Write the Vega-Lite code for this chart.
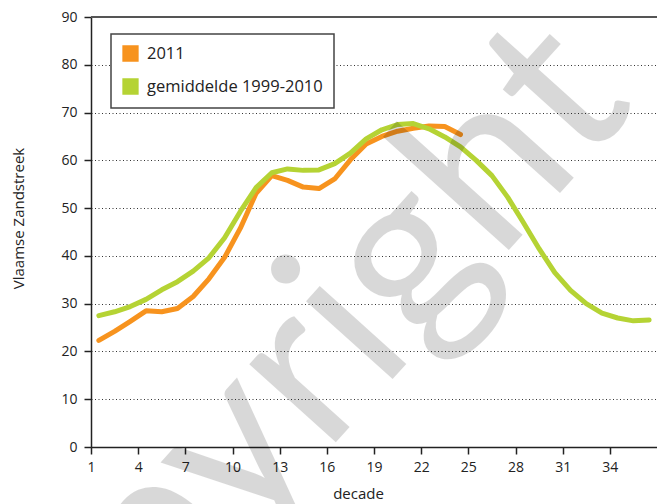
{
  "$schema": "https://vega.github.io/schema/vega-lite/v6.json",
  "width": 566,
  "height": 430,
  "autosize": {"type": "none"},
  "padding": {"left": 91, "top": 17, "right": 0, "bottom": 57},
  "background": "white",
  "config": {
    "view": {"stroke": null},
    "font": "Open Sans",
    "axis": {
      "labelFont": "Open Sans",
      "labelFontSize": 14,
      "labelColor": "#222",
      "titleFont": "Open Sans",
      "titleFontSize": 15,
      "titleFontWeight": "normal",
      "titleColor": "#222",
      "domainColor": "#222",
      "domainWidth": 1.5,
      "tickColor": "#222",
      "tickWidth": 1.5,
      "tickSize": 7
    },
    "legend": {
      "strokeColor": "#444",
      "strokeWidth": 1.5,
      "fillColor": "white",
      "padding": 11
    }
  },
  "datasets": {
    "series": [
      {"decade": 1, "serie": "2011", "value": 22.3},
      {"decade": 2, "serie": "2011", "value": 24.2},
      {"decade": 3, "serie": "2011", "value": 26.3},
      {"decade": 4, "serie": "2011", "value": 28.5},
      {"decade": 5, "serie": "2011", "value": 28.3},
      {"decade": 6, "serie": "2011", "value": 29.0},
      {"decade": 7, "serie": "2011", "value": 31.5},
      {"decade": 8, "serie": "2011", "value": 35.2},
      {"decade": 9, "serie": "2011", "value": 39.7},
      {"decade": 10, "serie": "2011", "value": 45.8},
      {"decade": 11, "serie": "2011", "value": 53.1},
      {"decade": 12, "serie": "2011", "value": 56.8},
      {"decade": 13, "serie": "2011", "value": 55.8},
      {"decade": 14, "serie": "2011", "value": 54.4},
      {"decade": 15, "serie": "2011", "value": 54.1},
      {"decade": 16, "serie": "2011", "value": 56.1},
      {"decade": 17, "serie": "2011", "value": 60.1},
      {"decade": 18, "serie": "2011", "value": 63.4},
      {"decade": 19, "serie": "2011", "value": 65.0},
      {"decade": 20, "serie": "2011", "value": 66.1},
      {"decade": 21, "serie": "2011", "value": 66.7},
      {"decade": 22, "serie": "2011", "value": 67.2},
      {"decade": 23, "serie": "2011", "value": 67.1},
      {"decade": 24, "serie": "2011", "value": 65.4},
      {"decade": 1, "serie": "gemiddelde 1999-2010", "value": 27.5},
      {"decade": 2, "serie": "gemiddelde 1999-2010", "value": 28.3},
      {"decade": 3, "serie": "gemiddelde 1999-2010", "value": 29.4},
      {"decade": 4, "serie": "gemiddelde 1999-2010", "value": 30.9},
      {"decade": 5, "serie": "gemiddelde 1999-2010", "value": 32.9},
      {"decade": 6, "serie": "gemiddelde 1999-2010", "value": 34.6},
      {"decade": 7, "serie": "gemiddelde 1999-2010", "value": 36.8},
      {"decade": 8, "serie": "gemiddelde 1999-2010", "value": 39.6},
      {"decade": 9, "serie": "gemiddelde 1999-2010", "value": 43.8},
      {"decade": 10, "serie": "gemiddelde 1999-2010", "value": 49.3},
      {"decade": 11, "serie": "gemiddelde 1999-2010", "value": 54.3},
      {"decade": 12, "serie": "gemiddelde 1999-2010", "value": 57.4},
      {"decade": 13, "serie": "gemiddelde 1999-2010", "value": 58.2},
      {"decade": 14, "serie": "gemiddelde 1999-2010", "value": 57.9},
      {"decade": 15, "serie": "gemiddelde 1999-2010", "value": 58.0},
      {"decade": 16, "serie": "gemiddelde 1999-2010", "value": 59.3},
      {"decade": 17, "serie": "gemiddelde 1999-2010", "value": 61.5},
      {"decade": 18, "serie": "gemiddelde 1999-2010", "value": 64.5},
      {"decade": 19, "serie": "gemiddelde 1999-2010", "value": 66.4},
      {"decade": 20, "serie": "gemiddelde 1999-2010", "value": 67.5},
      {"decade": 21, "serie": "gemiddelde 1999-2010", "value": 67.7},
      {"decade": 22, "serie": "gemiddelde 1999-2010", "value": 66.6},
      {"decade": 23, "serie": "gemiddelde 1999-2010", "value": 64.9},
      {"decade": 24, "serie": "gemiddelde 1999-2010", "value": 62.8},
      {"decade": 25, "serie": "gemiddelde 1999-2010", "value": 60.0},
      {"decade": 26, "serie": "gemiddelde 1999-2010", "value": 56.8},
      {"decade": 27, "serie": "gemiddelde 1999-2010", "value": 52.3},
      {"decade": 28, "serie": "gemiddelde 1999-2010", "value": 47.0},
      {"decade": 29, "serie": "gemiddelde 1999-2010", "value": 41.5},
      {"decade": 30, "serie": "gemiddelde 1999-2010", "value": 36.5},
      {"decade": 31, "serie": "gemiddelde 1999-2010", "value": 32.8},
      {"decade": 32, "serie": "gemiddelde 1999-2010", "value": 30.0},
      {"decade": 33, "serie": "gemiddelde 1999-2010", "value": 28.0},
      {"decade": 34, "serie": "gemiddelde 1999-2010", "value": 27.0},
      {"decade": 35, "serie": "gemiddelde 1999-2010", "value": 26.4},
      {"decade": 36, "serie": "gemiddelde 1999-2010", "value": 26.6}
    ],
    "watermark": [
      {"decade": 11.8, "value": 7.0, "label": "copyright"}
    ]
  },
  "layer": [
    {
      "data": {"name": "series"},
      "transform": [{"filter": "datum.serie === '2011'"}],
      "mark": {"type": "line", "strokeWidth": 5, "strokeCap": "round", "strokeJoin": "round"},
      "encoding": {
        "x": {
          "field": "decade",
          "type": "quantitative",
          "scale": {"domain": [0.5, 36.5], "nice": false, "zero": false},
          "axis": {
            "title": "decade",
            "values": [0.5, 3.5, 6.5, 9.5, 12.5, 15.5, 18.5, 21.5, 24.5, 27.5, 30.5, 33.5],
            "labelExpr": "datum.value + 0.5",
            "grid": false,
            "labelPadding": 6,
            "labelFlush": false,
            "titleX": 267,
            "titleY": 51,
            "titleBaseline": "alphabetic",
            "titleAnchor": null
          }
        },
        "y": {
          "field": "value",
          "type": "quantitative",
          "scale": {"domain": [0, 90], "nice": false},
          "axis": {
            "title": "Vlaamse Zandstreek",
            "values": [0, 10, 20, 30, 40, 50, 60, 70, 80, 90],
            "grid": true,
            "gridColor": "#333",
            "gridDash": [1, 2.5],
            "gridWidth": 1,
            "labelPadding": 7,
            "titleX": -73,
            "titleY": 201,
            "titleBaseline": "middle",
            "titleAngle": -90
          }
        },
        "color": {
          "field": "serie",
          "type": "nominal",
          "scale": {"domain": ["2011", "gemiddelde 1999-2010"], "range": ["#F7931E", "#B5D334"]},
          "legend": {
            "title": null,
            "orient": "none",
            "legendX": 20,
            "legendY": 17,
            "symbolType": "square",
            "symbolSize": 225,
            "labelFont": "Open Sans",
            "labelFontSize": 16.5,
            "labelColor": "#222",
            "labelOffset": 8,
            "labelLimit": 400,
            "rowPadding": 12,
            "encode": {
              "symbols": {
                "update": {
                  "fill": {"scale": "color", "field": "value"},
                  "stroke": {"value": "#333"},
                  "strokeWidth": {"value": 1.3},
                  "opacity": {"value": 1},
                  "fillOpacity": {"value": 1}
                }
              }
            }
          }
        }
      }
    },
    {
      "data": {"name": "series"},
      "transform": [{"filter": "datum.serie !== '2011'"}],
      "mark": {"type": "line", "strokeWidth": 5, "strokeCap": "round", "strokeJoin": "round"},
      "encoding": {
        "x": {"field": "decade", "type": "quantitative"},
        "y": {"field": "value", "type": "quantitative"},
        "color": {"field": "serie", "type": "nominal"}
      }
    },
    {
      "data": {"values": [{"top": 90}]},
      "mark": {"type": "rule", "color": "#555", "strokeWidth": 2},
      "encoding": {"y": {"field": "top", "type": "quantitative"}}
    },
    {
      "data": {"name": "watermark"},
      "mark": {"type": "text", "font": "Lato", "fontSize": 230, "fontWeight": "normal", "angle": -48, "align": "center", "baseline": "middle", "color": "#000", "opacity": 0.15},
      "encoding": {
        "x": {"field": "decade", "type": "quantitative"},
        "y": {"field": "value", "type": "quantitative"},
        "text": {"field": "label", "type": "nominal"}
      }
    }
  ]
}
